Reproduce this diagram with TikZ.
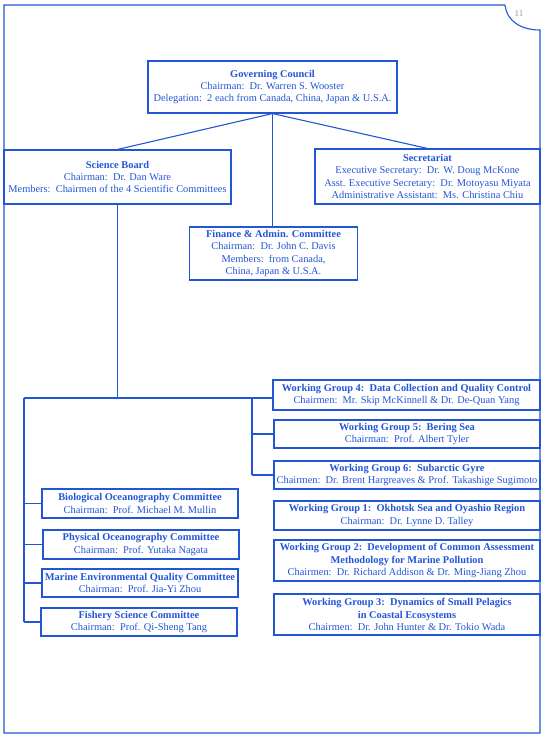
\documentclass[tikz,border=0pt]{standalone}
\usepackage{fontspec}
\setmainfont{Liberation Serif}
\definecolor{ink}{RGB}{35,85,215}
\definecolor{pagegray}{RGB}{150,150,160}
\begin{document}
\begin{tikzpicture}[x=1pt,y=-1pt,
  box/.style={draw=ink,line width=1.1pt,text=ink,align=center,inner sep=1pt,
    font=\fontsize{10.4}{12.4}\selectfont,anchor=center},
  conn/.style={draw=ink,line width=1.1pt}]
\useasboundingbox (0,0) rectangle (543,737);
% outer page frame with curled corner
\draw[conn] (505,5) -- (4,5) -- (4,733) -- (540,733) -- (540,30)
  .. controls (522,30) and (507,22) .. (505,5);
\node[text=pagegray,font=\fontsize{9}{10}\selectfont] (pg) at (519,14) {11};

\node[box,minimum width=249,minimum height=52] (gc) at (272.5,87)
 {\textbf{Governing Council}\\Chairman:\ \ Dr. Warren S. Wooster\\Delegation:\ \ 2 each from Canada, China, Japan \& U.S.A.};
\node[box,minimum width=227,minimum height=54] (sb) at (117.5,177)
 {\textbf{Science Board}\\Chairman:\ \ Dr. Dan Ware\\Members:\ \ Chairmen of the 4 Scientific Committees};
\node[box,minimum width=225,minimum height=55] (sec) at (427.5,176.5)
 {\textbf{Secretariat}\\Executive Secretary:\ \ Dr. W. Doug McKone\\Asst. Executive Secretary:\ \ Dr. Motoyasu Miyata\\Administrative Assistant:\ \ Ms. Christina Chiu};
\node[box,minimum width=168,minimum height=53] (fin) at (273.5,253.5)
 {\textbf{Finance \& Admin. Committee}\\Chairman:\ \ Dr. John C. Davis\\Members:\ \ from Canada,\\China, Japan \& U.S.A.};

\node[box,minimum width=267,minimum height=30] (wg4) at (406.5,395)
 {\textbf{Working Group 4:\ \ Data Collection and Quality Control}\\Chairmen:\ \ Mr. Skip McKinnell \& Dr. De-Quan Yang};
\node[box,minimum width=266,minimum height=28] (wg5) at (407,434)
 {\textbf{Working Group 5:\ \ Bering Sea}\\Chairman:\ \ Prof. Albert Tyler};
\node[box,minimum width=266,minimum height=28] (wg6) at (407,475)
 {\textbf{Working Group 6:\ \ Subarctic Gyre}\\Chairmen:\ \ Dr. Brent Hargreaves \& Prof. Takashige Sugimoto};
\node[box,minimum width=266,minimum height=29] (wg1) at (407,515.5)
 {\textbf{Working Group 1:\ \ Okhotsk Sea and Oyashio Region}\\Chairman:\ \ Dr. Lynne D. Talley};
\node[box,minimum width=266,minimum height=41] (wg2) at (407,560.5)
 {\textbf{Working Group 2:\ \ Development of Common Assessment}\\\textbf{Methodology for Marine Pollution}\\Chairmen:\ \ Dr. Richard Addison \& Dr. Ming-Jiang Zhou};
\node[box,minimum width=266,minimum height=41] (wg3) at (407,614.5)
 {\textbf{Working Group 3:\ \ Dynamics of Small Pelagics}\\\textbf{in Coastal Ecosystems}\\Chairmen:\ \ Dr. John Hunter \& Dr. Tokio Wada};

\node[box,minimum width=196,minimum height=29] (bio) at (140,503.5)
 {\textbf{Biological Oceanography Committee}\\Chairman:\ \ Prof. Michael M. Mullin};
\node[box,minimum width=196,minimum height=29] (phys) at (141,544.5)
 {\textbf{Physical Oceanography Committee}\\Chairman:\ \ Prof. Yutaka Nagata};
\node[box,minimum width=196,minimum height=28] (meqc) at (140,583)
 {\textbf{Marine Environmental Quality Committee}\\Chairman:\ \ Prof. Jia-Yi Zhou};
\node[box,minimum width=196,minimum height=28] (fish) at (139,622)
 {\textbf{Fishery Science Committee}\\Chairman:\ \ Prof. Qi-Sheng Tang};

% connectors
\draw[conn] (gc.south) -- (sb.north);
\draw[conn] (gc.south) -- (sec.north);
\draw[conn] (gc.south) -- (gc.south |- fin.north);
\coordinate (jl) at (24,398);
\coordinate (jr) at (252,398);
\draw[conn] (sb.south) -- (sb.south |- jl);
\draw[conn] (jl) -- (wg4.west |- jl);
\draw[conn] (jr) -- (jr |- wg6.west);
\draw[conn] (jr |- wg5.west) -- (wg5.west);
\draw[conn] (jr |- wg6.west) -- (wg6.west);
\draw[conn] (jl) -- (jl |- fish.west);
\draw[conn] (jl |- bio.west) -- (bio.west);
\draw[conn] (jl |- phys.west) -- (phys.west);
\draw[conn] (jl |- meqc.west) -- (meqc.west);
\draw[conn] (jl |- fish.west) -- (fish.west);
\end{tikzpicture}
\end{document}
